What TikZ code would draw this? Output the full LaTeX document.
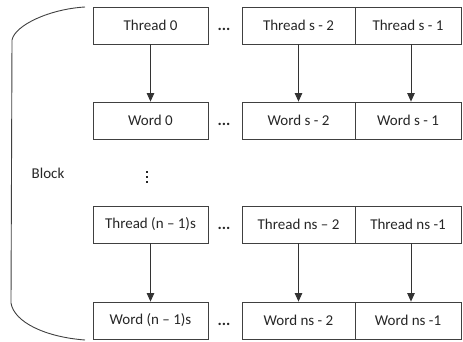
\documentclass[tikz,border=0pt]{standalone}
\usepackage{fontspec}
\setmainfont{Carlito}
\usetikzlibrary{arrows.meta}
\begin{document}
\begin{tikzpicture}[x=1pt,y=-1pt,
  cell/.style={draw=black!75,line width=0.8pt,rectangle,inner sep=0pt,minimum height=37pt,font=\fontsize{15}{17}\selectfont,text=black!85},
  wide/.style={cell,minimum width=115pt},
  mid/.style={cell,minimum width=113pt},
  narrow/.style={cell,minimum width=106pt},
  dots/.style={font=\bfseries\fontsize{16}{18}\selectfont,inner sep=0pt,text=black!85},
  vdot/.style={fill=black!85,draw=none},
  flow/.style={draw=black!80,line width=0.8pt,-{Triangle[width=7.5pt,length=8.5pt]}},
  brace/.style={draw=black!75,line width=0.9pt}]
\useasboundingbox (0,0) rectangle (463,342);
% row 1
\node[wide] (t1) at (150.5,25.5) {Thread 0};
\node[mid] (t2) at (298.5,25.5) {Thread s - 2};
\node[narrow] (t3) at (408,25.5) {Thread s - 1};
\node[dots] (e1) at (224,29) {...};
% row 2
\node[wide] (w1) at (150.5,120.5) {Word 0};
\node[mid] (w2) at (298.5,120.5) {Word s - 2};
\node[narrow] (w3) at (408,120.5) {Word s - 1};
\node[dots] (e2) at (224,124.5) {...};
% row 3
\node[wide] (t4) at (150.5,224.5) {Thread (n – 1)s};
\node[mid] (t5) at (298.5,224.5) {Thread ns – 2};
\node[narrow] (t6) at (408,224.5) {Thread ns -1};
\node[dots] (e3) at (224,228) {...};
% row 4
\node[wide] (w4) at (150.5,320.5) {Word (n – 1)s};
\node[mid] (w5) at (298.5,320.5) {Word ns - 2};
\node[narrow] (w6) at (408,320.5) {Word ns -1};
\node[dots] (e4) at (224,324) {...};
% arrows
\draw[flow] (t1.south) -- (w1.north);
\draw[flow] (t2.south) -- (w2.north);
\draw[flow] ([xshift=3pt]t3.south) -- ([xshift=3pt]w3.north);
\draw[flow] (t4.south) -- (w4.north);
\draw[flow] (t5.south) -- (w5.north);
\draw[flow] ([xshift=3pt]t6.south) -- ([xshift=3pt]w6.north);
% block label and vertical dots
\node[font=\fontsize{15}{17}\selectfont,text=black!85,inner sep=0pt] (blk) at (48,173) {Block};
\fill[vdot] (146,171) rectangle (148.4,173.4);
\fill[vdot] (146,176) rectangle (148.4,178.4);
\fill[vdot] (146,181) rectangle (148.4,183.4);
% curved bracket
\coordinate (ctop) at (85,7);
\coordinate (cbot) at (85,340);
\draw[brace] (ctop) .. controls (50,9) and (15,25) .. (12,40) -- (11,303) .. controls (14,322) and (45,337) .. (cbot);
\end{tikzpicture}
\end{document}
